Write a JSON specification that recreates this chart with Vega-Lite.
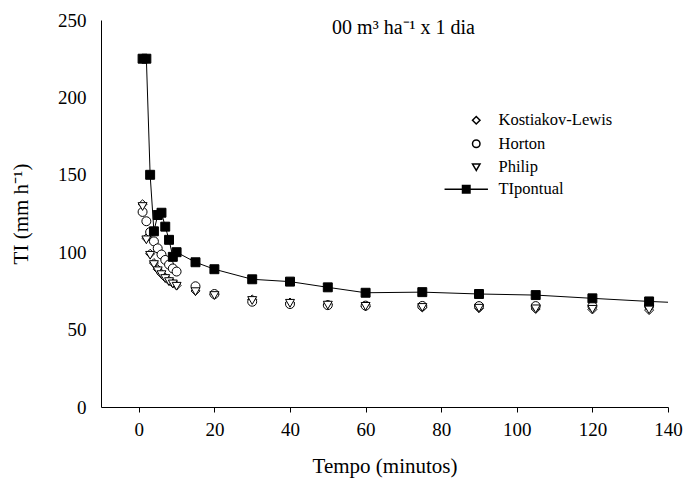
{
  "$schema": "https://vega.github.io/schema/vega-lite/v6.json",
  "width": 567,
  "height": 387,
  "autosize": {"type": "none"},
  "padding": {"left": 101, "top": 20, "right": 18, "bottom": 72},
  "background": "white",
  "title": {
    "text": "00 m³ ha⁻¹ x 1 dia",
    "font": "Liberation Serif",
    "fontSize": 20,
    "fontWeight": "normal",
    "color": "black",
    "anchor": "middle",
    "dx": 19,
    "offset": -27
  },
  "config": {
    "view": {"stroke": null},
    "axis": {
      "grid": false,
      "domainColor": "black",
      "domainWidth": 1,
      "tickColor": "black",
      "tickWidth": 1,
      "tickSize": 5,
      "labelColor": "black",
      "titleColor": "black",
      "labelFont": "Liberation Serif",
      "titleFont": "Liberation Serif",
      "labelFontSize": 19,
      "titleFontSize": 21,
      "titleFontWeight": "normal",
      "labelFlush": false,
      "labelOverlap": false
    },
    "legend": {
      "title": null,
      "orient": "none",
      "padding": 0,
      "labelFont": "Liberation Serif",
      "labelFontSize": 16.5,
      "labelColor": "black",
      "symbolSize": 56,
      "rowPadding": 6.5,
      "labelOffset": 14
    }
  },
  "data": {
    "values": [
      {"t": 1, "ti": 131, "model": "Kostiakov-Lewis"},
      {"t": 2, "ti": 109, "model": "Kostiakov-Lewis"},
      {"t": 3, "ti": 99, "model": "Kostiakov-Lewis"},
      {"t": 4, "ti": 93, "model": "Kostiakov-Lewis"},
      {"t": 5, "ti": 89, "model": "Kostiakov-Lewis"},
      {"t": 6, "ti": 86, "model": "Kostiakov-Lewis"},
      {"t": 7, "ti": 83.5, "model": "Kostiakov-Lewis"},
      {"t": 8, "ti": 81.5, "model": "Kostiakov-Lewis"},
      {"t": 9, "ti": 80, "model": "Kostiakov-Lewis"},
      {"t": 10, "ti": 78.5, "model": "Kostiakov-Lewis"},
      {"t": 15, "ti": 75, "model": "Kostiakov-Lewis"},
      {"t": 20, "ti": 72.5, "model": "Kostiakov-Lewis"},
      {"t": 30, "ti": 69.5, "model": "Kostiakov-Lewis"},
      {"t": 40, "ti": 67.5, "model": "Kostiakov-Lewis"},
      {"t": 50, "ti": 66, "model": "Kostiakov-Lewis"},
      {"t": 60, "ti": 65, "model": "Kostiakov-Lewis"},
      {"t": 75, "ti": 64.3, "model": "Kostiakov-Lewis"},
      {"t": 90, "ti": 63.8, "model": "Kostiakov-Lewis"},
      {"t": 105, "ti": 63.3, "model": "Kostiakov-Lewis"},
      {"t": 120, "ti": 63, "model": "Kostiakov-Lewis"},
      {"t": 135, "ti": 62.6, "model": "Kostiakov-Lewis"},
      {"t": 1, "ti": 126, "model": "Horton"},
      {"t": 2, "ti": 120, "model": "Horton"},
      {"t": 3, "ti": 113, "model": "Horton"},
      {"t": 4, "ti": 107, "model": "Horton"},
      {"t": 5, "ti": 102.5, "model": "Horton"},
      {"t": 6, "ti": 98.5, "model": "Horton"},
      {"t": 7, "ti": 95, "model": "Horton"},
      {"t": 8, "ti": 92, "model": "Horton"},
      {"t": 9, "ti": 89.5, "model": "Horton"},
      {"t": 10, "ti": 87.5, "model": "Horton"},
      {"t": 15, "ti": 78, "model": "Horton"},
      {"t": 20, "ti": 73, "model": "Horton"},
      {"t": 30, "ti": 68, "model": "Horton"},
      {"t": 40, "ti": 66.5, "model": "Horton"},
      {"t": 50, "ti": 65.8, "model": "Horton"},
      {"t": 60, "ti": 65.5, "model": "Horton"},
      {"t": 75, "ti": 65.3, "model": "Horton"},
      {"t": 90, "ti": 65.2, "model": "Horton"},
      {"t": 105, "ti": 65.2, "model": "Horton"},
      {"t": 120, "ti": 65.2, "model": "Horton"},
      {"t": 135, "ti": 65.2, "model": "Horton"},
      {"t": 1, "ti": 129.5, "model": "Philip"},
      {"t": 2, "ti": 108, "model": "Philip"},
      {"t": 3, "ti": 98, "model": "Philip"},
      {"t": 4, "ti": 92, "model": "Philip"},
      {"t": 5, "ti": 88, "model": "Philip"},
      {"t": 6, "ti": 85.5, "model": "Philip"},
      {"t": 7, "ti": 83, "model": "Philip"},
      {"t": 8, "ti": 81, "model": "Philip"},
      {"t": 9, "ti": 79.5, "model": "Philip"},
      {"t": 10, "ti": 78, "model": "Philip"},
      {"t": 15, "ti": 74.5, "model": "Philip"},
      {"t": 20, "ti": 72, "model": "Philip"},
      {"t": 30, "ti": 68.8, "model": "Philip"},
      {"t": 40, "ti": 67, "model": "Philip"},
      {"t": 50, "ti": 65.8, "model": "Philip"},
      {"t": 60, "ti": 65, "model": "Philip"},
      {"t": 75, "ti": 64.3, "model": "Philip"},
      {"t": 90, "ti": 63.8, "model": "Philip"},
      {"t": 105, "ti": 63.4, "model": "Philip"},
      {"t": 120, "ti": 63.1, "model": "Philip"},
      {"t": 135, "ti": 62.8, "model": "Philip"},
      {"t": 1, "ti": 225, "model": "TIpontual"},
      {"t": 2, "ti": 225, "model": "TIpontual"},
      {"t": 3, "ti": 150, "model": "TIpontual"},
      {"t": 4, "ti": 113.5, "model": "TIpontual"},
      {"t": 5, "ti": 124, "model": "TIpontual"},
      {"t": 6, "ti": 125.5, "model": "TIpontual"},
      {"t": 7, "ti": 116.5, "model": "TIpontual"},
      {"t": 8, "ti": 108, "model": "TIpontual"},
      {"t": 9, "ti": 97, "model": "TIpontual"},
      {"t": 10, "ti": 100, "model": "TIpontual"},
      {"t": 15, "ti": 93.5, "model": "TIpontual"},
      {"t": 20, "ti": 89, "model": "TIpontual"},
      {"t": 30, "ti": 82.5, "model": "TIpontual"},
      {"t": 40, "ti": 81, "model": "TIpontual"},
      {"t": 50, "ti": 77.3, "model": "TIpontual"},
      {"t": 60, "ti": 73.8, "model": "TIpontual"},
      {"t": 75, "ti": 74.2, "model": "TIpontual"},
      {"t": 90, "ti": 73, "model": "TIpontual"},
      {"t": 105, "ti": 72.3, "model": "TIpontual"},
      {"t": 120, "ti": 70.2, "model": "TIpontual"},
      {"t": 135, "ti": 68.2, "model": "TIpontual"},
      {"t": 150, "ti": 66.6, "model": "TIpontual"}
    ]
  },
  "encoding": {
    "x": {
      "field": "t",
      "type": "quantitative",
      "scale": {"domain": [-10, 140], "nice": false},
      "axis": {
        "title": "Tempo (minutos)",
        "values": [0, 20, 40, 60, 80, 100, 120, 140],
        "labelPadding": 8,
        "titlePadding": 16
      }
    },
    "y": {
      "field": "ti",
      "type": "quantitative",
      "scale": {"domain": [0, 250], "nice": false},
      "axis": {
        "title": "TI (mm h⁻¹)",
        "values": [0, 50, 100, 150, 200, 250],
        "ticks": false,
        "labelPadding": 15,
        "titlePadding": 26
      }
    }
  },
  "layer": [
    {
      "transform": [{"filter": "datum.model == 'TIpontual'"}],
      "mark": {"type": "line", "color": "black", "strokeWidth": 1, "clip": true}
    },
    {
      "transform": [{"filter": "datum.model != 'TIpontual'"}],
      "mark": {
        "type": "point",
        "filled": true,
        "fill": "white",
        "stroke": "black",
        "strokeWidth": 1,
        "opacity": 1,
        "size": 80,
        "clip": true
      },
      "encoding": {
        "shape": {
          "field": "model",
          "type": "nominal",
          "scale": {
            "domain": ["Kostiakov-Lewis", "Horton", "Philip"],
            "range": ["diamond", "circle", "triangle-down"]
          },
          "legend": {"legendX": 367, "legendY": 92}
        }
      }
    },
    {
      "transform": [{"filter": "datum.model == 'TIpontual'"}],
      "mark": {
        "type": "point",
        "shape": "square",
        "filled": true,
        "fill": "black",
        "stroke": "black",
        "strokeWidth": 1,
        "size": 80,
        "clip": true
      },
      "encoding": {
        "opacity": {
          "field": "model",
          "type": "nominal",
          "scale": {"domain": ["TIpontual"], "range": [1]},
          "legend": {
            "legendX": 357,
            "legendY": 161,
            "labelOffset": 24,
            "symbolType": "M-5.8,0H5.8M-1,-1H1V1H-1Z"
          }
        }
      }
    }
  ]
}
